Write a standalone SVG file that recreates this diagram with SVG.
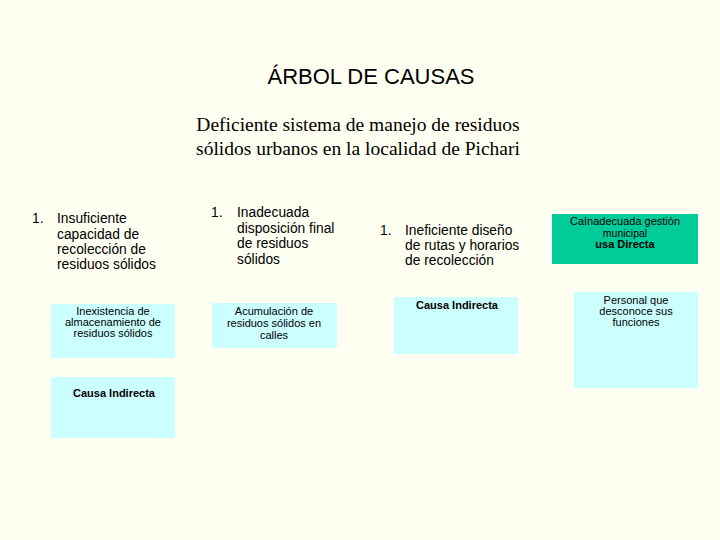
<svg xmlns="http://www.w3.org/2000/svg" width="720" height="540" viewBox="0 0 720 540">
<style>
.s{font-family:"Liberation Sans",Arial,sans-serif;fill:#000}
.b{fill:#CCFFFF}
.t{font-size:13.8px}
.m{font-size:11px}
.bd{font-weight:bold}
</style>
<rect width="720" height="540" fill="#FFFFF2"/>
<text class="s" x="371" y="84" font-size="22" text-anchor="middle">ÁRBOL DE CAUSAS</text>
<text x="358" y="131" font-family="Liberation Serif,serif" font-size="19.5" text-anchor="middle">Deficiente sistema de manejo de residuos</text>
<text x="358" y="155" font-family="Liberation Serif,serif" font-size="19.5" text-anchor="middle">sólidos urbanos en la localidad de Pichari</text>
<g id="c1" class="s t"><text x="32" y="223">1.</text><text x="57" y="223">Insuficiente</text><text x="57" y="239">capacidad de</text><text x="57" y="254">recolección de</text><text x="57" y="269">residuos sólidos</text></g>
<g id="c2" class="s t"><text x="211" y="217">1.</text><text x="237" y="217">Inadecuada</text><text x="237" y="233">disposición final</text><text x="237" y="248">de residuos</text><text x="237" y="264">sólidos</text></g>
<g id="c3" class="s t"><text x="380" y="235">1.</text><text x="405" y="235">Ineficiente diseño</text><text x="405" y="250">de rutas y horarios</text><text x="405" y="265">de recolección</text></g>
<g id="n1"><rect class="b" x="51" y="304" width="124" height="54"/><g class="s m" text-anchor="middle"><text x="113" y="315">Inexistencia de</text><text x="113" y="326">almacenamiento de</text><text x="113" y="337">residuos sólidos</text></g></g>
<g id="n2"><rect class="b" x="51" y="377" width="124" height="61"/><text class="s m bd" x="114" y="397" text-anchor="middle" font-size="12">Causa Indirecta</text></g>
<g id="n3"><rect class="b" x="212" y="303" width="125" height="45"/><g class="s m" text-anchor="middle"><text x="274" y="315">Acumulación de</text><text x="274" y="327">residuos sólidos en</text><text x="274" y="339">calles</text></g></g>
<g id="n4"><rect class="b" x="394" y="297" width="124" height="57"/><text class="s m bd" x="457" y="309" text-anchor="middle" font-size="12">Causa Indirecta</text></g>
<g id="n5"><rect fill="#00CC99" x="552" y="214" width="146" height="50"/><g class="s m" text-anchor="middle"><text x="625" y="225">Ca<tspan font-weight="normal">Inadecuada gestión</tspan></text><text x="625" y="236.5" font-size="10.5">municipal</text><text x="625" y="248" class="bd">usa Directa</text></g></g>
<g id="n6"><rect class="b" x="574" y="292" width="124" height="96"/><g class="s m" text-anchor="middle"><text x="636" y="304">Personal que</text><text x="636" y="315">desconoce sus</text><text x="636" y="326">funciones</text></g></g>
<g id="connectors"/>
</svg>
